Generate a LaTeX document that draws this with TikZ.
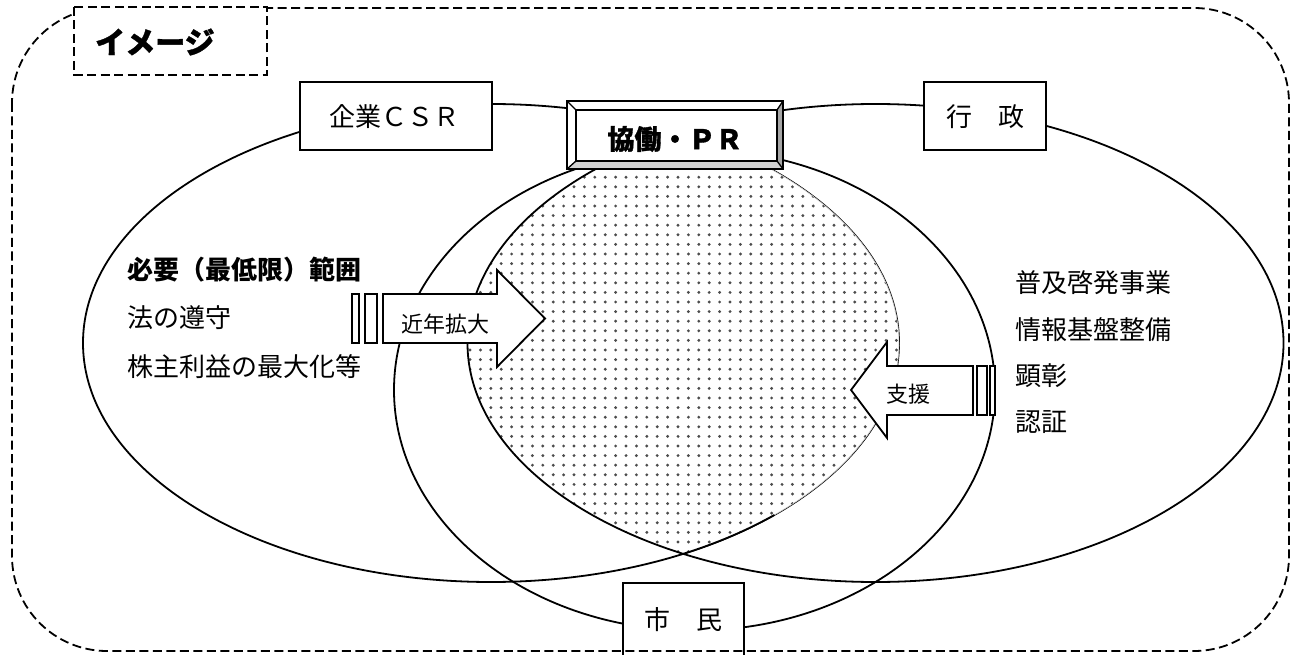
\documentclass[tikz,border=0pt]{standalone}
\usepackage{fontspec}
\newfontfamily\jp{Noto Sans CJK JP}
\newfontfamily\jpheavy{Noto Sans CJK JP}[BoldFeatures={FakeBold=1.2}]
\begin{document}
\begin{tikzpicture}[x=1pt,y=-1pt,line join=miter]
\useasboundingbox (0,0) rectangle (1296,655);
\tikzset{
  ln/.style={line width=1.8pt},
  bx/.style={draw,line width=1.8pt,fill=white},
  dashborder/.style={line width=1.8pt,dash pattern=on 9pt off 4.5pt},
  bodytext/.style={font=\jp\fontsize{26}{26}\selectfont,anchor=west,inner sep=0pt},
  boxtext/.style={font=\jp\fontsize{26}{26}\selectfont,inner sep=0pt},
  arrowtext/.style={font=\jp\fontsize{22}{22}\selectfont,inner sep=0pt},
  dotc/.style={fill=black!70}
}
% left ellipse (企業CSR)
\draw[ln] (491,343) ellipse [x radius=408pt,y radius=239pt];
% dotted lens (intersection of left and right ellipses)
\begin{scope}
  \clip (491,343) ellipse [x radius=408pt,y radius=239pt];
  \clip (875.5,343) ellipse [x radius=408pt,y radius=239pt];
  \fill[white] (460,100) rectangle (910,560);
  \foreach \i in {0,...,43}{
    \foreach \j in {0,...,47}{
      \fill[dotc] ({470+\i*10.4},{110+\j*9.6}) circle (1.6pt);
    }
  }
\end{scope}
\draw[gray!50,line width=0.6pt] plot[domain=-62:47,samples=60] ({491+408*cos(\x)},{343+239*sin(\x)});
\draw[ln] plot[domain=46:62,samples=20] ({491+408*cos(\x)},{343+239*sin(\x)});
% right ellipse (行政) and middle ellipse (市民)
\draw[ln] (875.5,343) ellipse [x radius=408pt,y radius=239pt];
\draw[ln] (694.5,390) ellipse [x radius=300.5pt,y radius=240.5pt];
% arrow 近年拡大
\draw[ln,fill=white] (352,294) rectangle (359,343);
\draw[ln,fill=white] (365,294) rectangle (377,343);
\draw[ln,fill=white] (383,294) -- (497,294) -- (497,270) -- (545,318.5) -- (497,367) -- (497,343) -- (383,343) -- cycle;
\node[arrowtext] (kinnen) at (445,324) {近年拡大};
% arrow 支援
\draw[ln,fill=white] (977,366) rectangle (987,415);
\draw[ln,fill=white] (990,366) rectangle (995,415);
\draw[ln,fill=white] (851,390) -- (887,342) -- (887,366) -- (973,366) -- (973,415) -- (887,415) -- (887,438) -- cycle;
\node[arrowtext] (shien) at (908,394) {支援};
% boxes
\node[bx,minimum width=192pt,minimum height=68pt] (csr) at (396,116) {};
\node[boxtext] (csrt) at (394,117) {企業ＣＳＲ};
\node[bx,minimum width=122pt,minimum height=68pt] (gyosei) at (985,116) {};
\node[boxtext] (gyoseit) at (985,117) {行　政};
\draw[bx] (623,583) rectangle (744,672);
\node[boxtext] (shimin) at (683,620) {市　民};
% 協働・PR bevelled box
\fill[white] (567,101) rectangle (783,169);
\fill[gray!70] (777,110) -- (783,101) -- (783,169) -- (777,161) -- cycle;
\fill[gray!35] (576,161) -- (777,161) -- (783,169) -- (567,169) -- cycle;
\draw[line width=1.3pt] (567,101) -- (576,110) (783,101) -- (777,110) (567,169) -- (576,161) (783,169) -- (777,161);
\draw[line width=2.2pt] (576,110) rectangle (777,161);
\draw[line width=2.2pt] (567,101) rectangle (783,169);
\node[font=\jpheavy\bfseries\fontsize{27}{27}\selectfont,inner sep=0pt] (pr) at (675,139) {協働・ＰＲ};
% outer dashed border
\draw[dashborder,rounded corners=95pt] (12,8) rectangle (1289,651);
\draw[dashborder,fill=white] (74,7) rectangle (267,75);
\node[font=\jpheavy\bfseries\fontsize{30}{30}\selectfont,anchor=west,inner sep=0pt] (image) at (95,42) {イメージ};
% left texts
\node[bodytext,font=\jp\bfseries\fontsize{26}{26}\selectfont] (hitsuyo) at (127,270) {必要（最低限）範囲};
\node[bodytext] (ho) at (127,318) {法の遵守};
\node[bodytext] (kabu) at (127,367) {株主利益の最大化等};
% right texts
\node[bodytext] (fukyu) at (1015,283) {普及啓発事業};
\node[bodytext] (joho) at (1015,330) {情報基盤整備};
\node[bodytext] (kensho) at (1015,376) {顕彰};
\node[bodytext] (ninsho) at (1015,422) {認証};
\end{tikzpicture}
\end{document}
